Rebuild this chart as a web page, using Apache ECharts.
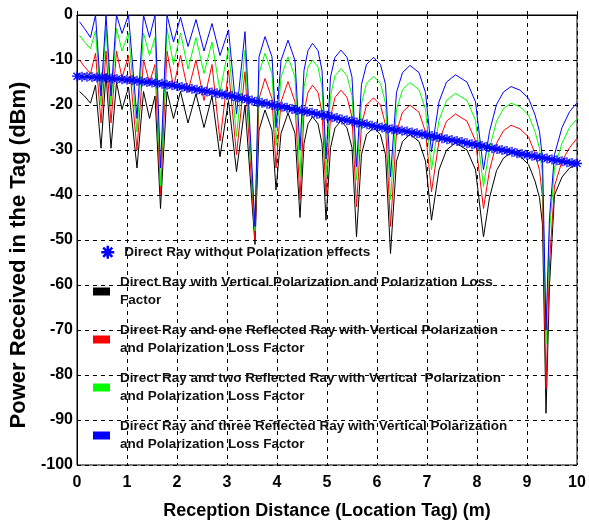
<!DOCTYPE html>
<html><head><meta charset="utf-8">
<script src="https://cdn.jsdelivr.net/npm/echarts@6/dist/echarts.min.js"></script>
<style>html,body{margin:0;padding:0;background:#fff}#c{width:589px;height:529px}</style>
</head><body><div id="c"></div>
<script>
// Reception distance (m) where the interference curves were read
const distance = [
  0.05, 0.15, 0.27, 0.37, 0.48, 0.58, 0.68, 0.79, 0.90, 1.03, 1.20, 1.33, 1.45, 1.56, 1.67,
  1.80, 1.93, 2.07, 2.22, 2.38, 2.54, 2.70, 2.86, 3.03, 3.19, 3.36, 3.56,
  3.64, 3.76, 3.90, 3.98,
  4.08, 4.22, 4.36, 4.46,
  4.54, 4.62, 4.71, 4.82, 4.90, 4.98,
  5.07, 5.16, 5.28, 5.40, 5.50, 5.59,
  5.69, 5.79, 5.93, 6.07, 6.17, 6.27,
  6.39, 6.51, 6.66, 6.84, 6.97, 7.09,
  7.24, 7.39, 7.57, 7.80, 7.97, 8.13,
  8.25, 8.39, 8.53, 8.68, 8.86, 9.03, 9.16, 9.25, 9.31, 9.38,
  9.45, 9.55, 9.70, 9.85, 10.0
];
// Direct ray with vertical polarization and PLF (black)
const directVertical = [
  -17, -18, -19.6, -15.6, -29.6, -13, -29.6, -15, -21, -16, -34, -17, -23, -18, -43,
  -17, -23, -17, -24, -17.5, -25, -18, -31.5, -19, -34.8, -20, -51,
  -25.6, -21.1, -25.6, -38.9,
  -26.3, -21.8, -26.3, -45,
  -28.6, -24.2, -22.6, -24.2, -28.6, -45.6,
  -29.5, -25.1, -23.5, -25.1, -29.5, -49.3,
  -31, -26.6, -25, -26.6, -31, -53,
  -32.5, -28.1, -26.5, -28.1, -32.5, -45.6,
  -34.4, -30, -28.4, -30, -34.4, -49.3,
  -40.6, -34.6, -31.8, -30.6, -31.4, -33.2, -36.9, -40.6, -46.6, -88.5,
  -60, -40, -36, -34, -33
];
// Direct + one reflected ray (red)
const oneReflected = [
  -10, -11.5, -13, -8.5, -24, -8, -24, -8, -14, -9, -30, -10, -15, -11, -40,
  -8, -16, -9, -17, -10, -19, -11, -28, -12.2, -31, -12.6, -50,
  -18.6, -14.1, -18.6, -34,
  -19.3, -14.8, -19.3, -41,
  -21.6, -17.2, -15.6, -17.2, -21.6, -40,
  -22.7, -18.3, -16.7, -18.3, -22.7, -42.6,
  -24.4, -20, -18.4, -20, -24.4, -47,
  -26, -21.6, -20, -21.6, -26, -39.3,
  -28, -23.6, -22, -23.6, -28, -43,
  -34.5, -28.5, -25.7, -24.5, -25.3, -27.1, -30.8, -34.5, -40.5, -83,
  -55, -38, -32.5, -29.5, -27.4
];
// Direct + two reflected rays (green)
const twoReflected = [
  -4.5, -6, -7.5, -3.5, -20, -3, -20, -3, -8, -4, -26, -4, -9, -5, -38,
  -3, -11, -4, -12, -5, -13, -6, -17, -7.4, -27, -7.8, -48,
  -13, -8.5, -13, -29,
  -13.8, -9.3, -13.8, -36,
  -16, -11.6, -10, -11.6, -16, -36,
  -17.9, -13.5, -11.9, -13.5, -17.9, -36.7,
  -19.6, -15.2, -13.6, -15.2, -19.6, -41,
  -21, -16.6, -15, -16.6, -21, -34.4,
  -23.4, -19, -17.4, -19, -23.4, -38.1,
  -29.6, -23.6, -20.8, -19.6, -20.4, -22.2, -25.9, -29.6, -35.6, -73,
  -48, -34, -28.5, -25, -23.1
];
// Direct + three reflected rays (blue)
const threeReflected = [
  -1.5, -3, -5, 0, -18, 0, -18, 0, -4.1, 0, -23, 0, -5, 0, -34,
  0, -6, -0.5, -7, -1, -8, -1.9, -9, -3.3, -22, -3.7, -47,
  -9.3, -4.8, -9.3, -25,
  -10.1, -5.6, -10.1, -30,
  -12.3, -7.9, -6.3, -7.9, -12.3, -32,
  -13.8, -9.4, -7.8, -9.4, -13.8, -33.7,
  -15.4, -11, -9.4, -11, -15.4, -36,
  -17.2, -12.8, -11.2, -12.8, -17.2, -30.4,
  -19.3, -14.9, -13.3, -14.9, -19.3, -34.4,
  -25.9, -19.9, -17.1, -15.9, -16.7, -18.5, -22.2, -25.9, -31.9, -70,
  -45, -31, -25, -21.5, -19.5
];
// Direct ray without polarization effects (blue stars), every 0.1 m from 0 to 10
const directNoPolarization = [
  -13.6,-13.7,-13.7,-13.8,-13.9,-13.9,-14.0,-14.1,-14.2,-14.3,
  -14.4,-14.5,-14.6,-14.8,-14.9,-15.0,-15.2,-15.3,-15.5,-15.6,
  -15.8,-16.0,-16.2,-16.4,-16.6,-16.8,-17.0,-17.2,-17.4,-17.6,
  -17.8,-18.0,-18.3,-18.5,-18.8,-19.0,-19.3,-19.5,-19.7,-20.0,
  -20.2,-20.4,-20.6,-20.9,-21.1,-21.3,-21.5,-21.7,-22.0,-22.2,
  -22.4,-22.7,-22.9,-23.2,-23.4,-23.6,-23.9,-24.1,-24.3,-24.6,
  -24.8,-25.0,-25.2,-25.4,-25.6,-25.7,-25.9,-26.1,-26.3,-26.5,
  -26.7,-26.9,-27.1,-27.4,-27.6,-27.8,-28.0,-28.2,-28.5,-28.7,
  -28.9,-29.1,-29.3,-29.6,-29.8,-30.0,-30.2,-30.4,-30.7,-30.9,
  -31.1,-31.3,-31.5,-31.7,-31.9,-32.1,-32.3,-32.5,-32.7,-32.9,-33.0
];
const starDistance = directNoPolarization.map((v, i) => i / 10);

const seriesNames = [
  'Direct Ray without Polarization effects',
  'Direct Ray with Vertical Polarization and Polarization Loss Factor',
  'Direct Ray and one Reflected Ray with Vertical Polarization and Polarization Loss Factor',
  'Direct Ray and two Reflected Ray with Vertical Polarization and Polarization Loss Factor',
  'Direct Ray and three Reflected Ray with Vertical Polarization and Polarization Loss Factor'
];
const legendText = {
  [seriesNames[0]]: 'Direct Ray without Polarization effects',
  [seriesNames[1]]: 'Direct Ray with Vertical Polarization and Polarization Loss\nFactor',
  [seriesNames[2]]: 'Direct Ray and one Reflected Ray with Vertical Polarization\nand Polarization Loss Factor',
  [seriesNames[3]]: 'Direct Ray and two Reflected Ray with Vertical  Polarization\nand Polarization Loss Factor',
  [seriesNames[4]]: 'Direct Ray and three Reflected Ray with Vertical Polarization\nand Polarization Loss Factor'
};

const FONT = '"Liberation Sans", Arial, sans-serif';
const asterisk = 'path://M0,5L10,5M5,0L5,10M1.5,1.5L8.5,8.5M8.5,1.5L1.5,8.5';
const pair = (xs, ys) => ys.map((y, i) => [xs[i], y]);
const legendTextStyle = {fontFamily: FONT, fontWeight: 'bold', fontSize: 13.5, lineHeight: 18.5, color: '#111', padding: [0, 0, 0, 5]};

const lineSeries = (name, xs, ys, color) => ({
  name, type: 'line', data: pair(xs, ys), symbol: 'none', showSymbol: false,
  lineStyle: {color, width: 1}, itemStyle: {color}, z: 2, silent: true
});

const chart = echarts.init(document.getElementById('c'));
chart.setOption({
  animation: false,
  backgroundColor: '#fff',
  grid: {left: 77, right: 12, top: 15, bottom: 64, show: true, borderColor: '#000', borderWidth: 1, backgroundColor: 'transparent'},
  xAxis: {
    type: 'value', min: 0, max: 10, interval: 1,
    name: 'Reception Distance (Location Tag) (m)', nameLocation: 'middle', nameGap: 37,
    nameTextStyle: {fontFamily: FONT, fontWeight: 'bold', fontSize: 18, color: '#000'},
    axisLine: {show: true, lineStyle: {color: '#000', width: 1}},
    axisTick: {show: true, inside: true, length: 4, lineStyle: {color: '#000'}},
    axisLabel: {fontFamily: FONT, fontWeight: 'bold', fontSize: 16, color: '#000', margin: 10},
    splitLine: {show: true, lineStyle: {color: '#000', type: [4, 4], width: 1}}
  },
  yAxis: {
    type: 'value', min: -100, max: 0, interval: 10,
    name: 'Power Received in the Tag (dBm)', nameLocation: 'middle', nameGap: 45, nameRotate: 90,
    nameTextStyle: {fontFamily: FONT, fontWeight: 'bold', fontSize: 22, color: '#000', padding: [0, 30, 0, 0]},
    axisLine: {show: true, lineStyle: {color: '#000', width: 1}},
    axisTick: {show: true, inside: true, length: 4, lineStyle: {color: '#000'}},
    axisLabel: {fontFamily: FONT, fontWeight: 'bold', fontSize: 16, color: '#000', margin: 4},
    splitLine: {show: true, lineStyle: {color: '#000', type: [4, 4], width: 1}}
  },
  legend: [
    {
      left: 100, top: 243, orient: 'vertical', padding: 0, selectedMode: false,
      itemWidth: 13, itemHeight: 13,
      data: [{name: seriesNames[0], icon: asterisk, itemStyle: {color: 'transparent', borderColor: '#0000ff', borderWidth: 2.5}}],
      formatter: n => legendText[n], textStyle: legendTextStyle
    },
    {
      left: 93, top: 273, orient: 'vertical', padding: 0, selectedMode: false, itemGap: 11,
      itemWidth: 17, itemHeight: 8,
      data: [
        {name: seriesNames[1], icon: 'rect', itemStyle: {color: '#000000'}},
        {name: seriesNames[2], icon: 'rect', itemStyle: {color: '#ff0000'}},
        {name: seriesNames[3], icon: 'rect', itemStyle: {color: '#00ff00'}},
        {name: seriesNames[4], icon: 'rect', itemStyle: {color: '#0000ff'}}
      ],
      formatter: n => legendText[n], textStyle: legendTextStyle
    }
  ],
  series: [
    lineSeries(seriesNames[1], distance, directVertical, '#000000'),
    lineSeries(seriesNames[2], distance, oneReflected, '#ff0000'),
    lineSeries(seriesNames[3], distance, twoReflected, '#00ff00'),
    lineSeries(seriesNames[4], distance, threeReflected, '#0000ff'),
    {
      name: seriesNames[0], type: 'line', data: pair(starDistance, directNoPolarization),
      symbol: asterisk, symbolSize: 10, showSymbol: true, showAllSymbol: true,
      lineStyle: {color: '#0000ff', width: 2},
      itemStyle: {color: 'transparent', borderColor: '#0000ff', borderWidth: 1.3},
      z: 5, silent: true
    }
  ]
});
</script>
</body></html>
